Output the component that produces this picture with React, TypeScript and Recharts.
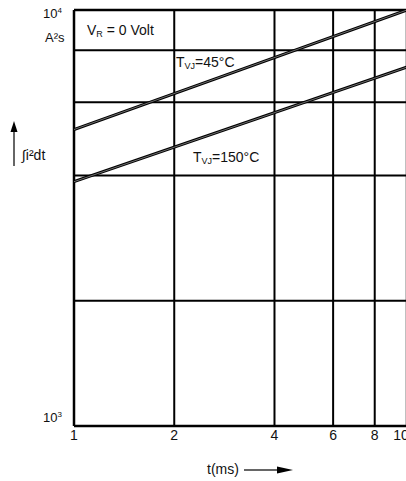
import React from 'react';
import { LineChart, Line, XAxis, YAxis, ReferenceLine } from 'recharts';

const times = [1, 10];
const tvj45 = [5160, 10000];
const tvj150 = [3866, 7290];
const xTicks = [1, 2, 4, 6, 8, 10];
const xTickLabels = ['1', '2', '4', '6', '8', '10'];
const yTicks = [1000, 10000];
const yTickLabels: Record<number, string> = { 1000: '3', 10000: '4' };
const xGrid = [2, 4, 6, 8];
const yGrid = [2000, 4000, 6000, 8000];

const data = times.map((t, i) => ({ t, s45: tvj45[i], s150: tvj150[i] }));

const FONT = '"Liberation Sans", Arial, Helvetica, sans-serif';

const XTick = (props: any) => {
  const { x, payload } = props;
  const idx = xTicks.indexOf(payload.value);
  const shift = payload.value === 10 ? -6 : 0;
  return (
    <text x={x + shift} y={440} textAnchor="middle" fontFamily={FONT} fontSize={14} fill="#111">
      {xTickLabels[idx]}
    </text>
  );
};

const YTick = (props: any) => {
  const { y, payload } = props;
  const baseline = payload.value === 10000 ? y + 8 : y - 4;
  return (
    <text x={62} y={baseline} textAnchor="end" fontFamily={FONT} fontSize={13} fill="#111">
      10
      <tspan dy={-5} fontSize={8}>{yTickLabels[payload.value]}</tspan>
    </text>
  );
};

export default function App() {
  return (
    <div style={{ position: 'absolute', left: 0, top: 0, width: 406, height: 481, overflow: 'hidden', background: '#fff' }}>
      <LineChart width={420} height={481} data={data} margin={{ top: 10, right: 13, bottom: 25, left: 0 }}>
        <XAxis
          dataKey="t"
          type="number"
          scale="log"
          domain={[1, 10]}
          ticks={xTicks}
          axisLine={false}
          tickLine={false}
          height={30}
          tick={<XTick />}
          allowDataOverflow
        />
        <YAxis
          type="number"
          scale="log"
          domain={[1000, 10000]}
          ticks={yTicks}
          axisLine={false}
          tickLine={false}
          width={74}
          tick={<YTick />}
          allowDataOverflow
        />
        {xGrid.map((v) => (
          <ReferenceLine key={'x' + v} x={v} stroke="#000" strokeWidth={2} />
        ))}
        {yGrid.map((v) => (
          <ReferenceLine key={'y' + v} y={v} stroke="#000" strokeWidth={2} />
        ))}
        <ReferenceLine x={1} stroke="#000" strokeWidth={2.5} />
        <ReferenceLine x={10} stroke="#000" strokeWidth={2.5} />
        <ReferenceLine y={1000} stroke="#000" strokeWidth={2.5} />
        <ReferenceLine y={10000} stroke="#000" strokeWidth={2.5} />
        <Line dataKey="s45" type="linear" stroke="#000" strokeWidth={3} dot={false} isAnimationActive={false} />
        <Line dataKey="s45" type="linear" stroke="#fff" strokeOpacity={0.55} strokeWidth={0.8} dot={false} isAnimationActive={false} />
        <Line dataKey="s150" type="linear" stroke="#000" strokeWidth={3} dot={false} isAnimationActive={false} />
        <Line dataKey="s150" type="linear" stroke="#fff" strokeOpacity={0.55} strokeWidth={0.8} dot={false} isAnimationActive={false} />
      </LineChart>
      <svg width={406} height={481} style={{ position: 'absolute', left: 0, top: 0, pointerEvents: 'none' }}>
        <g fontFamily={FONT} fill="#111">
          <text x={45} y={42} fontSize={13}>A²s</text>
          <text x={87} y={35} fontSize={14}>
            V<tspan fontSize={9} dy={2}>R</tspan><tspan dy={-2}> = 0 Volt</tspan>
          </text>
          <text x={176} y={67} fontSize={14}>
            T<tspan fontSize={9} dy={2}>VJ</tspan><tspan dy={-2}>=45°C</tspan>
          </text>
          <text x={193} y={162} fontSize={14}>
            T<tspan fontSize={9} dy={2}>VJ</tspan><tspan dy={-2}>=150°C</tspan>
          </text>
          <text x={22} y={160} fontSize={14}>∫i²dt</text>
          <text x={207} y={474} fontSize={14}>t(ms)</text>
        </g>
        <line x1={14} y1={166} x2={14} y2={130} stroke="#333" strokeWidth={1.5} />
        <polygon points="14,121 10.5,132 17.5,132" fill="#000" />
        <line x1={244} y1={470} x2={280} y2={470} stroke="#333" strokeWidth={1.5} />
        <polygon points="293,470 277,466.5 277,473.5" fill="#000" />
      </svg>
    </div>
  );
}
